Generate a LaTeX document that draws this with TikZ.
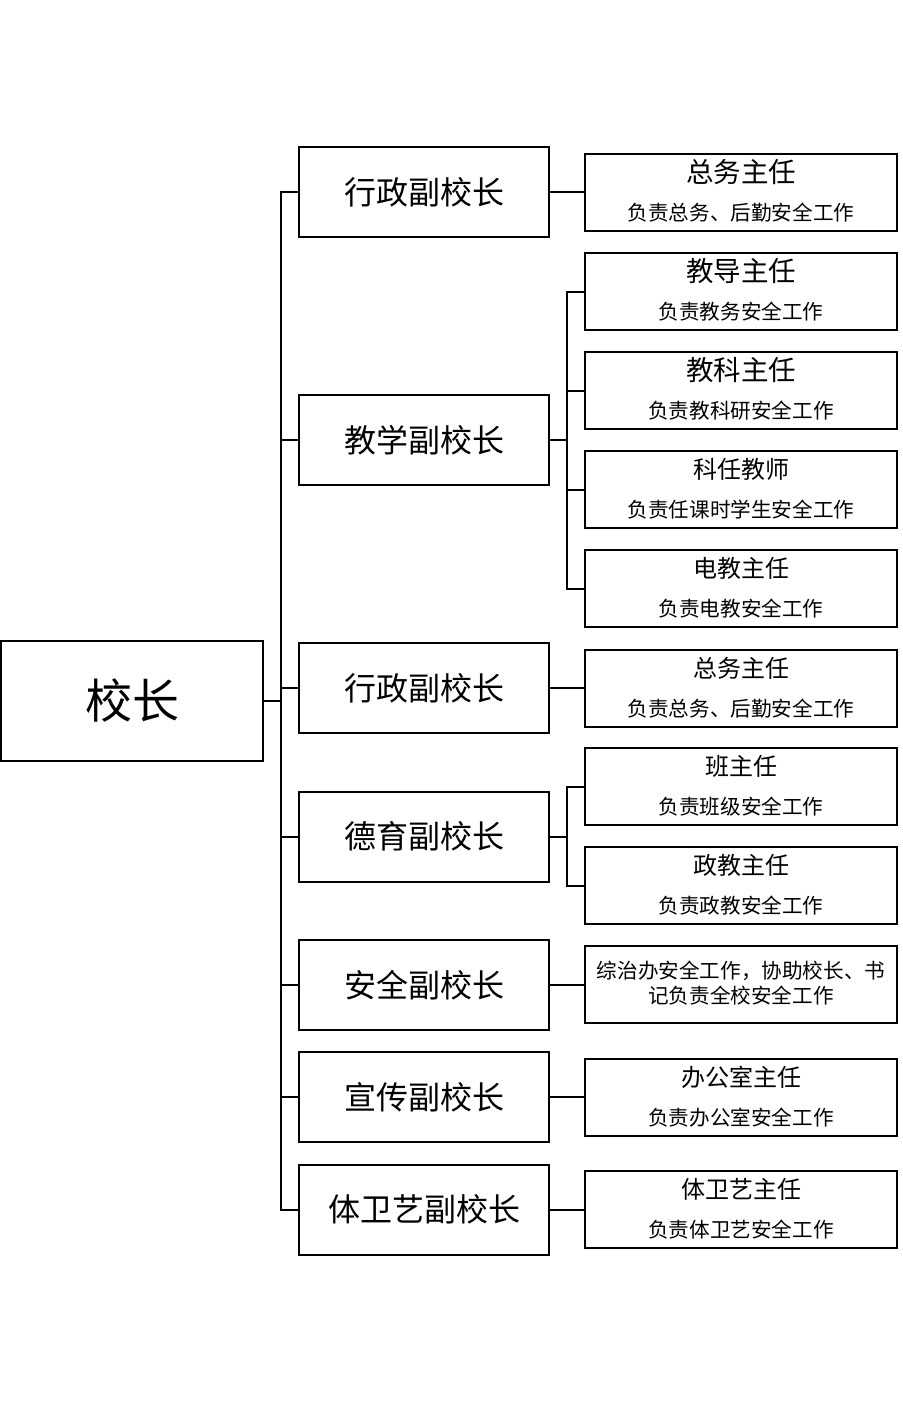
\documentclass[tikz,border=0pt]{standalone}
\usepackage{fontspec}
\newfontfamily\cjk{Noto Sans CJK SC}
\tikzset{
  box/.style={draw=black, line width=2pt, fill=white, inner sep=0pt, font=\cjk},
  rootbox/.style={box, minimum width=262pt, minimum height=120pt, font=\cjk\fontsize{47}{50}\selectfont},
  midbox/.style={box, minimum width=250pt, minimum height=90pt, font=\cjk\fontsize{32}{36}\selectfont},
  rbox/.style={box, minimum width=312pt, minimum height=77pt},
  ttl/.style={inner sep=0pt, font=\cjk\fontsize{#1}{#1}\selectfont},
  sub/.style={inner sep=0pt, font=\cjk\fontsize{20.6}{24}\selectfont},
  link/.style={draw=black, line width=2pt}
}
\newcommand{\rightbox}[5]{%
  \node[rbox] (#1) at (741,#2+38.5) {};
  \node[ttl=#5] (#1t) at (741,#2+18) {#3};
  \node[sub] (#1s) at (741,#2+59) {#4};
}
\begin{document}
\begin{tikzpicture}[x=1pt,y=-1pt]
\useasboundingbox (0,0) rectangle (902,1402);
\node[rootbox] (root) at (132,701) {校长};
\node[midbox] (m1) at (424,192) {行政副校长};
\node[midbox] (m2) at (424,440) {教学副校长};
\node[midbox] (m3) at (424,688) {行政副校长};
\node[midbox] (m4) at (424,836.5) {德育副校长};
\node[midbox] (m5) at (424,985) {安全副校长};
\node[midbox] (m6) at (424,1097) {宣传副校长};
\node[midbox] (m7) at (424,1209.5) {体卫艺副校长};
\rightbox{r1}{154}{总务主任}{负责总务、后勤安全工作}{27.5}
\rightbox{r2}{253}{教导主任}{负责教务安全工作}{27.5}
\rightbox{r3}{352}{教科主任}{负责教科研安全工作}{27.5}
\rightbox{r4}{451}{科任教师}{负责任课时学生安全工作}{24}
\rightbox{r5}{550}{电教主任}{负责电教安全工作}{24}
\rightbox{r6}{650}{总务主任}{负责总务、后勤安全工作}{24}
\rightbox{r7}{748}{班主任}{负责班级安全工作}{24}
\rightbox{r8}{847}{政教主任}{负责政教安全工作}{24}
\node[rbox] (r9) at (741,984.5) {};
\node[sub] (r9a) at (741,971) {综治办安全工作，协助校长、书};
\node[sub] (r9b) at (741,996) {记负责全校安全工作};
\rightbox{r10}{1059}{办公室主任}{负责办公室安全工作}{24}
\rightbox{r11}{1171}{体卫艺主任}{负责体卫艺安全工作}{24}
% trunk
\coordinate (tr) at (281,701);
\draw[link] (root.east) -- (tr);
\foreach \m in {m1,m2,m3,m4,m5,m6,m7}{
  \draw[link] (tr) |- (\m.west);
}
% branches
\draw[link] (m1.east) -- (m1.east -| r1.west);
\draw[link] (m3.east) -- (m3.east -| r6.west);
\draw[link] (m5.east) -- (m5.east -| r9.west);
\draw[link] (m6.east) -- (m6.east -| r10.west);
\draw[link] (m7.east) -- (m7.east -| r11.west);
\coordinate (b2) at (567,440);
\draw[link] (m2.east) -- (b2);
\foreach \r in {r2,r3,r4,r5}{
  \draw[link] (b2) |- (\r.west);
}
\coordinate (b4) at (567,836.5);
\draw[link] (m4.east) -- (b4);
\foreach \r in {r7,r8}{
  \draw[link] (b4) |- (\r.west);
}
\end{tikzpicture}
\end{document}
